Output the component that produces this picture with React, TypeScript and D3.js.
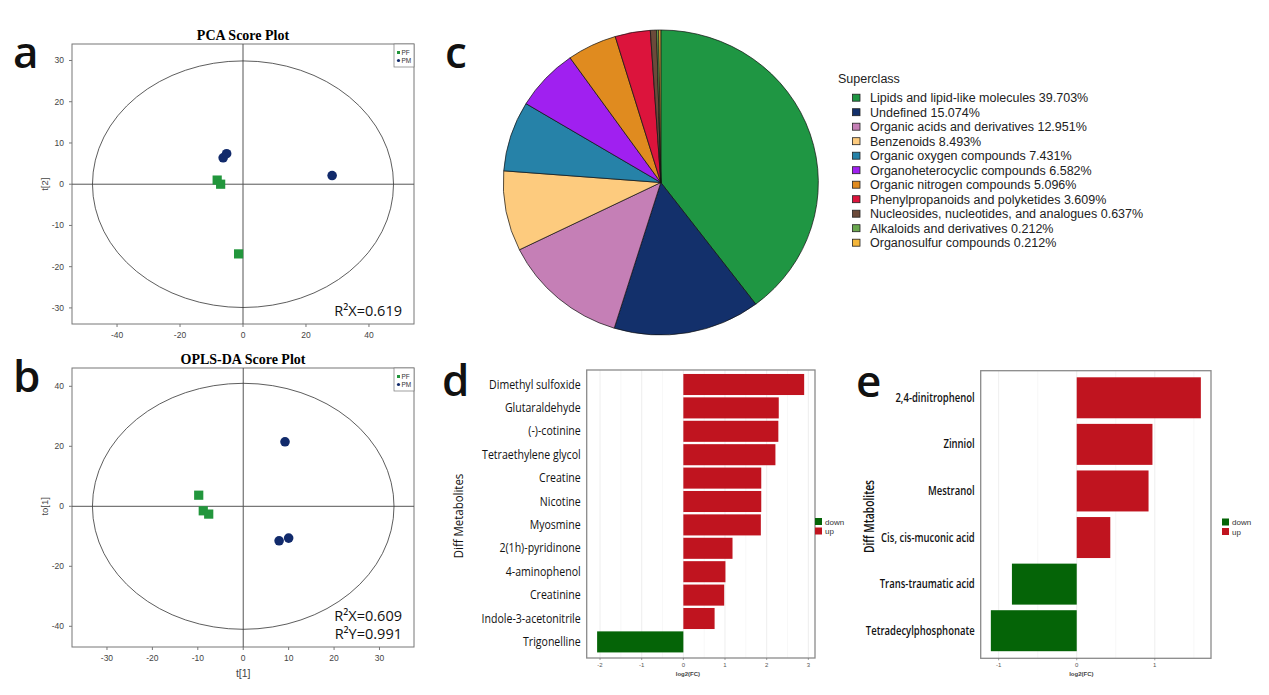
import React from "react";
import * as d3 from "d3";

// ---- data ----
const pcaPF: [number, number][] = [[-8.2, 1.0], [-7.1, 0], [-1.4, -16.9]];
const pcaPM: [number, number][] = [[-6.3, 6.4], [-5.2, 7.4], [28.3, 2.1]];
const oplsPF: [number, number][] = [[-9.8, 3.7], [-8.8, -1.5], [-7.6, -2.6]];
const oplsPM: [number, number][] = [[9.2, 21.5], [7.9, -11.5], [10.0, -10.6]];

const superclasses = [
  "Lipids and lipid-like molecules",
  "Undefined",
  "Organic acids and derivatives",
  "Benzenoids",
  "Organic oxygen compounds",
  "Organoheterocyclic compounds",
  "Organic nitrogen compounds",
  "Phenylpropanoids and polyketides",
  "Nucleosides, nucleotides, and analogues",
  "Alkaloids and derivatives",
  "Organosulfur compounds",
];
const superclassPct = [39.703, 15.074, 12.951, 8.493, 7.431, 6.582, 5.096, 3.609, 0.637, 0.212, 0.212];
const superclassColors = [
  "#1f9643", "#13306b", "#c57fb6", "#fdcb7e", "#2682a8", "#a020f0",
  "#e08b1f", "#dc143c", "#6b4a3a", "#6aa84f", "#f4b63a",
];

const metabolitesD = [
  "Dimethyl sulfoxide", "Glutaraldehyde", "(-)-cotinine", "Tetraethylene glycol",
  "Creatine", "Nicotine", "Myosmine", "2(1h)-pyridinone", "4-aminophenol",
  "Creatinine", "Indole-3-acetonitrile", "Trigonelline",
];
const fcD = [2.9, 2.29, 2.28, 2.21, 1.87, 1.87, 1.86, 1.18, 1.01, 0.98, 0.75, -2.07];

const metabolitesE = [
  "2,4-dinitrophenol", "Zinniol", "Mestranol", "Cis, cis-muconic acid",
  "Trans-traumatic acid", "Tetradecylphosphonate",
];
const fcE = [1.59, 0.97, 0.92, 0.43, -0.83, -1.1];

const PF_COLOR = "#22963c";
const PM_COLOR = "#112a6b";
const UP = "#c0141f";
const DOWN = "#056407";
const SANS = "Liberation Sans, Arial, sans-serif";
const OPEN = "Open Sans, Noto Sans, sans-serif";

interface Frame { left: number; right: number; top: number; bottom: number }

function Letter({ ch, x, y }: { ch: string; x: number; y: number }) {
  return (
    <text x={x} y={y} fontFamily={OPEN} fontWeight={600} fontSize={44} fill="#111">
      {ch}
    </text>
  );
}

function ScorePlot(props: {
  title: string;
  frame: Frame;
  xDomain: [number, number];
  yDomain: [number, number];
  xTicks: number[];
  yTicks: number[];
  pf: [number, number][];
  pm: [number, number][];
  ellipse: [number, number];
  yLabel: string;
  xLabel?: string;
  stats: string[];
}) {
  const { frame: f } = props;
  const x = d3.scaleLinear().domain(props.xDomain).range([f.left, f.right]);
  const y = d3.scaleLinear().domain(props.yDomain).range([f.bottom, f.top]);
  const cx = (f.left + f.right) / 2;
  return (
    <g>
      <text x={cx} y={f.top - 4} textAnchor="middle" fontFamily="Liberation Serif, Times New Roman, serif"
        fontWeight="bold" fontSize={14}>{props.title}</text>
      <rect x={f.left} y={f.top} width={f.right - f.left} height={f.bottom - f.top} fill="none" stroke="#777" />
      <line x1={f.left} x2={f.right} y1={y(0)} y2={y(0)} stroke="#555" />
      <line x1={x(0)} x2={x(0)} y1={f.top} y2={f.bottom} stroke="#555" />
      <ellipse cx={x(0)} cy={y(0)} rx={x(props.ellipse[0]) - x(0)} ry={y(0) - y(props.ellipse[1])}
        fill="none" stroke="#333" strokeWidth={0.8} />
      {props.xTicks.map((t) => (
        <g key={t}>
          <line x1={x(t)} x2={x(t)} y1={f.bottom} y2={f.bottom + 3} stroke="#777" />
          <text x={x(t)} y={f.bottom + 14} textAnchor="middle" fontFamily={SANS} fontSize={8.5} fill="#444">{t}</text>
        </g>
      ))}
      {props.yTicks.map((t) => (
        <g key={t}>
          <line x1={f.left - 3} x2={f.left} y1={y(t)} y2={y(t)} stroke="#777" />
          <text x={f.left - 8} y={y(t) + 3} textAnchor="end" fontFamily={SANS} fontSize={8.5} fill="#444">{t}</text>
        </g>
      ))}
      <text transform={`translate(${f.left - 24},${y(0)}) rotate(-90)`} textAnchor="middle"
        fontFamily={SANS} fontSize={9.5} fill="#444">{props.yLabel}</text>
      {props.xLabel && (
        <text x={x(0)} y={f.bottom + 30} textAnchor="middle" fontFamily={SANS} fontSize={10.5} fill="#444">{props.xLabel}</text>
      )}
      {props.pm.map((p, i) => (
        <circle key={"m" + i} cx={x(p[0])} cy={y(p[1])} r={4.8} fill={PM_COLOR} />
      ))}
      {props.pf.map((p, i) => (
        <rect key={"f" + i} x={x(p[0]) - 4.6} y={y(p[1]) - 4.6} width={9.2} height={9.2} fill={PF_COLOR} />
      ))}
      {/* legend */}
      <g transform={`translate(${f.right - 20},${f.top})`}>
        <rect x={0} y={0} width={20} height={23} fill="#fff" stroke="#777" strokeWidth={0.7} />
        <rect x={3} y={7} width={3} height={3} fill={PF_COLOR} />
        <text x={7.5} y={10.5} fontFamily={SANS} fontSize={6.5} fill="#333">PF</text>
        <circle cx={4.5} cy={16.5} r={1.6} fill={PM_COLOR} />
        <text x={7.5} y={19} fontFamily={SANS} fontSize={6.5} fill="#333">PM</text>
      </g>
      {props.stats.map((s, i) => (
        <text key={s} x={f.right - 12} y={f.bottom - 8 - (props.stats.length - 1 - i) * 18.5}
          textAnchor="end" fontFamily={OPEN} fontSize={14.5} fill="#111">{s}</text>
      ))}
    </g>
  );
}

function SuperclassPie() {
  const cx = 660.8, cy = 182.5, r = 152.5;
  const pie = d3.pie<number>().sort(null).value((d) => d);
  const arcs = pie(superclassPct);
  const arc = d3.arc<d3.PieArcDatum<number>>().innerRadius(0).outerRadius(r);
  const lx = 838, ly = 97.7, step = 14.5;
  return (
    <g>
      <g transform={`translate(${cx},${cy}) scale(1.033,1)`}>
        {arcs.map((a, i) => (
          <path key={i} d={arc(a) || ""} fill={superclassColors[i]} stroke="#111" strokeWidth={0.7} />
        ))}
      </g>
      <text x={lx} y={83} fontFamily={SANS} fontSize={12.5} fill="#222">Superclass</text>
      {superclasses.map((name, i) => (
        <g key={name} transform={`translate(${lx},${ly + i * step})`}>
          <rect x={14.5} y={-3.5} width={7.5} height={7} fill={superclassColors[i]} stroke="#222" strokeWidth={0.8} />
          <text x={32} y={4.5} fontFamily={SANS} fontSize={12.5} fill="#222">
            {name} {superclassPct[i].toFixed(3)}%
          </text>
        </g>
      ))}
    </g>
  );
}

function DiffBars(props: {
  names: string[];
  values: number[];
  frame: Frame;
  domain: [number, number];
  ticks: number[];
  minor: number[];
  band: [number, number];
  padInner: number;
  padOuter: number;
  yLabel: string;
  yLabelX: number;
  legendX: number;
  labelSize: number;
  labelWeight: number;
  squeeze: number;
}) {
  const f = props.frame;
  const x = d3.scaleLinear().domain(props.domain).range([f.left, f.right]);
  const y = d3.scaleBand<string>().domain(props.names).range(props.band)
    .paddingInner(props.padInner).paddingOuter(props.padOuter);
  const midY = (f.top + f.bottom) / 2;
  return (
    <g>
      {props.minor.map((t) => (
        <line key={"n" + t} x1={x(t)} x2={x(t)} y1={f.top} y2={f.bottom} stroke="#f4f4f4" strokeWidth={0.6} />
      ))}
      {props.ticks.map((t) => (
        <line key={"g" + t} x1={x(t)} x2={x(t)} y1={f.top} y2={f.bottom} stroke="#e6e6e6" strokeWidth={0.7} />
      ))}
      {props.names.map((n, i) => {
        const v = props.values[i];
        return (
          <rect key={n} x={x(Math.min(0, v))} y={y(n)!} width={Math.abs(x(v) - x(0))} height={y.bandwidth()}
            fill={v >= 0 ? UP : DOWN} />
        );
      })}
      <rect x={f.left} y={f.top} width={f.right - f.left} height={f.bottom - f.top} fill="none" stroke="#8a8a8a" strokeWidth={1.3} />
      {props.names.map((n) => (
        <text key={"l" + n}
          transform={`translate(${f.left - 6},${y(n)! + y.bandwidth() / 2 + 4}) scale(${props.squeeze},1)`}
          textAnchor="end" fontFamily={OPEN} fontWeight={props.labelWeight} fontSize={props.labelSize} fill="#111">{n}</text>
      ))}
      {props.ticks.map((t) => (
        <g key={"t" + t}>
          <line x1={x(t)} x2={x(t)} y1={f.bottom} y2={f.bottom + 2} stroke="#666" strokeWidth={0.6} />
          <text x={x(t)} y={f.bottom + 9} textAnchor="middle" fontFamily={SANS} fontSize={6} fill="#555">{t}</text>
        </g>
      ))}
      <text x={x(0) + (f.right - f.left) * 0.02} y={f.bottom + 18} textAnchor="middle" fontFamily={SANS}
        fontWeight="bold" fontSize={6} fill="#444">log2(FC)</text>
      <text transform={`translate(${props.yLabelX},${midY + 2}) rotate(-90) scale(${props.squeeze},1)`} textAnchor="middle"
        fontFamily={OPEN} fontWeight={props.labelWeight} fontSize={props.labelSize + 1} fill="#111">{props.yLabel}</text>
      <g transform={`translate(${props.legendX},${midY + 4})`}>
        <rect x={0} y={0} width={7} height={7} fill={DOWN} />
        <text x={10} y={6.5} fontFamily={SANS} fontSize={8} fill="#333">down</text>
        <rect x={0} y={9.5} width={7} height={7} fill={UP} />
        <text x={10} y={16} fontFamily={SANS} fontSize={8} fill="#333">up</text>
      </g>
    </g>
  );
}

export default function App() {
  return (
    <div style={{ position: "absolute", left: 0, top: 0, background: "#fff" }}>
      <svg width={1269} height={695} viewBox="0 0 1269 695" style={{ display: "block" }}>
        <rect width={1269} height={695} fill="#fff" />
        <Letter ch="a" x={13} y={68} />
        <Letter ch="b" x={13} y={392} />
        <Letter ch="c" x={445} y={68} />
        <Letter ch="d" x={442} y={396} />
        <Letter ch="e" x={856} y={397} />
        <ScorePlot
          title="PCA Score Plot"
          frame={{ left: 72, right: 414, top: 44, bottom: 324 }}
          xDomain={[-54.3, 54.3]}
          yDomain={[-33.9, 34]}
          xTicks={[-40, -20, 0, 20, 40]}
          yTicks={[30, 20, 10, 0, -10, -20, -30]}
          pf={pcaPF}
          pm={pcaPM}
          ellipse={[47.8, 29.9]}
          yLabel="t[2]"
          stats={["R²X=0.619"]}
        />
        <ScorePlot
          title="OPLS-DA Score Plot"
          frame={{ left: 72, right: 414, top: 368, bottom: 647 }}
          xDomain={[-37.7, 37.6]}
          yDomain={[-46.9, 46.1]}
          xTicks={[-30, -20, -10, 0, 10, 20, 30]}
          yTicks={[40, 20, 0, -20, -40]}
          pf={oplsPF}
          pm={oplsPM}
          ellipse={[33.2, 41]}
          yLabel="to[1]"
          xLabel="t[1]"
          stats={["R²X=0.609", "R²Y=0.991"]}
        />
        <SuperclassPie />
        <DiffBars
          names={metabolitesD}
          values={fcD}
          frame={{ left: 586.7, right: 815, top: 370, bottom: 658 }}
          domain={[-2.32, 3.16]}
          ticks={[-2, -1, 0, 1, 2, 3]}
          minor={[-1.5, -0.5, 0.5, 1.5, 2.5]}
          band={[372.8, 653.6]}
          padInner={0.1}
          padOuter={0.05}
          yLabel="Diff Metabolites"
          yLabelX={463}
          legendX={815}
          labelSize={12}
          labelWeight={500}
          squeeze={0.88}
        />
        <DiffBars
          names={metabolitesE}
          values={fcE}
          frame={{ left: 980.7, right: 1211, top: 370.7, bottom: 658.3 }}
          domain={[-1.23, 1.72]}
          ticks={[-1, 0, 1]}
          minor={[-0.5, 0.5, 1.5]}
          band={[374.5, 654]}
          padInner={0.12}
          padOuter={0.06}
          yLabel="Diff Mtabolites"
          yLabelX={874}
          legendX={1222}
          labelSize={12.5}
          labelWeight={600}
          squeeze={0.76}
        />
      </svg>
    </div>
  );
}
